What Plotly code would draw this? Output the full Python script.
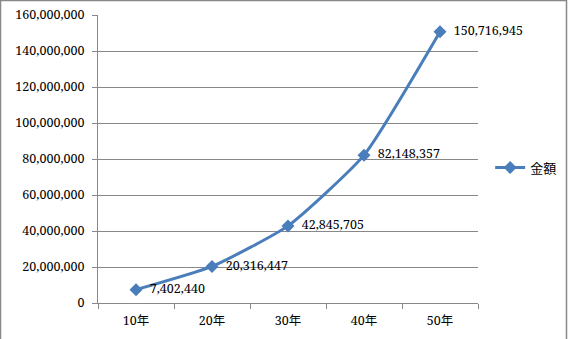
import plotly.graph_objects as go

categories = ["10年", "20年", "30年", "40年", "50年"]
values = [7402440, 20316447, 42845705, 82148357, 150716945]
labels = [f"{v:,}" for v in values]
y_ticks = list(range(0, 160000001, 20000000))
y_tick_text = [f"{v:,}" for v in y_ticks]

serif = "Noto Serif, Liberation Serif, serif"
cjk = "Noto Serif, Noto Sans CJK JP"
SIZE = 12.5

fig = go.Figure()
fig.add_trace(go.Scatter(
    x=categories, y=values, name="金額",
    mode="lines+markers+text",
    line=dict(color="#4A7EBB", width=3, shape="spline", smoothing=0.5),
    marker=dict(symbol="diamond", size=10, color="#4A7EBB"),
    text=["  " + t for t in labels], textposition="middle right",
    textfont=dict(family=serif, size=SIZE, color="#000000"),
    cliponaxis=False,
))

fig.update_layout(
    width=568, height=339,
    margin=dict(l=98, r=90, t=15, b=36, autoexpand=False),
    paper_bgcolor="white", plot_bgcolor="white",
    font=dict(family=serif, size=SIZE, color="#000000"),
    showlegend=True,
    legend=dict(x=1.032, y=0.47, xanchor="left", yanchor="middle",
                font=dict(family="Noto Sans CJK JP", size=13),
                itemwidth=30, bgcolor="rgba(0,0,0,0)"),
    xaxis=dict(
        type="category", range=[-0.5, 4.5], showgrid=False,
        showline=True, linecolor="#888888", linewidth=1,
        ticks="outside", tickson="boundaries", ticklen=5, tickcolor="#888888",
        ticklabelstandoff=6,
        tickfont=dict(family=cjk, size=SIZE, color="#000000"), zeroline=False,
    ),
    yaxis=dict(
        range=[0, 160000000], tickvals=y_ticks, ticktext=y_tick_text,
        showgrid=True, gridcolor="#888888", gridwidth=1,
        showline=True, linecolor="#888888", linewidth=1,
        ticks="outside", ticklen=5, tickcolor="#888888",
        ticklabelstandoff=5,
        tickfont=dict(family=serif, size=SIZE, color="#000000"), zeroline=False,
    ),
)
fig.add_shape(type="rect", xref="paper", yref="paper",
              x0=(0.5 - 98) / 380, x1=(566.5 - 98) / 380,
              y0=-(345 - 303) / 288, y1=1 + (15 - 0.5) / 288,
              line=dict(color="#888888", width=1.5))

fig.write_html("out.html")
